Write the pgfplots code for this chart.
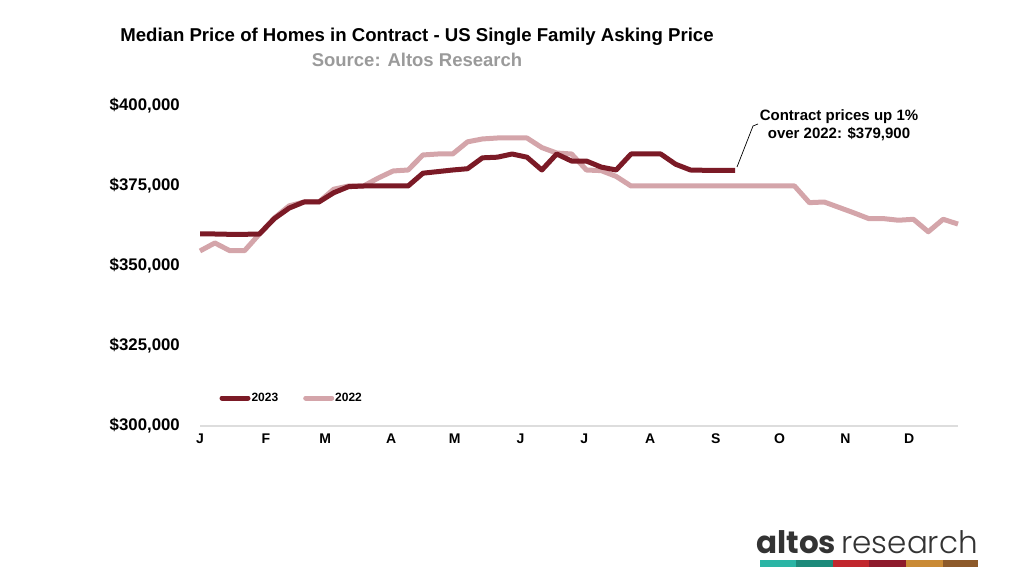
\documentclass[border=0pt]{standalone}
\usepackage{pgfplots}
\pgfplotsset{compat=1.18}
\usepackage{fontspec}
\setmainfont{Liberation Sans}
\IfFontExistsTF{Poppins}{\newfontfamily\logobold{Poppins}[UprightFont=*, BoldFont=* Bold]}{\newfontfamily\logobold{Lato}}
\IfFontExistsTF{Poppins Light}{\newfontfamily\logolight{Poppins Light}}{\newfontfamily\logolight{Poppins}}
\definecolor{c23}{HTML}{7B1A26}
\definecolor{c22}{HTML}{D4A5AA}
\definecolor{srcgray}{HTML}{9A9A9A}
\definecolor{axgray}{HTML}{DDDDDD}
\definecolor{l1}{HTML}{2BB5A5}
\definecolor{l2}{HTML}{1D8A7A}
\definecolor{l3}{HTML}{C1272D}
\definecolor{l4}{HTML}{8E1B2C}
\definecolor{l5}{HTML}{C98A35}
\definecolor{l6}{HTML}{8D5A2A}
\definecolor{logogray}{HTML}{333333}
\begin{document}
\begin{tikzpicture}[x=1pt,y=1pt]
\useasboundingbox (0,0) rectangle (1024,576);
\begin{axis}[
  at={(200pt,150pt)}, anchor=south west,
  scale only axis, width=758pt, height=320pt,
  xmin=0, xmax=51, ymin=300000, ymax=400000,
  clip=false,
  axis x line=bottom, axis y line=left,
  x axis line style={draw=axgray, line width=2pt, -},
  y axis line style={draw=none, -},
  major tick length=0pt,
  scaled y ticks=false,
  xtick={0,4.43,8.43,12.86,17.14,21.57,25.86,30.29,34.71,39,43.43,47.71},
  xticklabels={J,F,M,A,M,J,J,A,S,O,N,D},
  ytick={300000,325000,350000,375000,400000},
  yticklabels={{\$300,000},{\$325,000},{\$350,000},{\$375,000},{\$400,000}},
  /pgf/number format/assume math mode=true,
  ticklabel style={inner sep=0pt, font=\bfseries\fontsize{14}{16}\selectfont},
  xticklabel style={anchor=north, yshift=-8pt},
  yticklabel style={anchor=east, xshift=-20pt, font=\bfseries\fontsize{16.8}{18}\selectfont},
  reverse legend,
  legend columns=-1,
  legend image code/.code={\draw[#1, line cap=round] (0pt,0pt) -- (26pt,0pt);},
  legend style={at={(axis cs:1.3,308750)}, anchor=west, draw=none, fill=none,
    inner sep=0pt, font=\bfseries\fontsize{12}{14}\selectfont,
    nodes={inner sep=1pt},
    /tikz/every even column/.append style={column sep=24pt}},
]
\addplot[c22, line width=5pt, line join=round] coordinates {
(0,354700) (1,357200) (2,354800) (3,354800) (4,360000) (5,365000) (6,368800)
(7,370000) (8,370000) (9,374000) (10,375000) (11,375000) (12,377500) (13,379700)
(14,380000) (15,384700) (16,385000) (17,385000) (18,388800) (19,389700) (20,390000)
(21,390000) (22,390000) (23,387000) (24,385300) (25,385000) (26,380000) (27,379800)
(28,378000) (29,375000) (30,375000) (31,375000) (32,375000) (33,375000) (34,375000)
(35,375000) (36,375000) (37,375000) (38,375000) (39,375000) (40,375000) (41,369800)
(42,370000) (43,368300) (44,366600) (45,364800) (46,364800) (47,364300) (48,364600)
(49,360700) (50,364600) (51,363100)
};
\addlegendentry{2022}
\addplot[c23, line width=5pt, line join=round] coordinates {
(0,360000) (1,360000) (2,359900) (3,359900) (4,360000) (5,364800) (6,368100)
(7,370000) (8,370000) (9,372900) (10,374800) (11,375000) (12,375000) (13,375000)
(14,375000) (15,379000) (16,379500) (17,380000) (18,380400) (19,383800) (20,384000)
(21,385000) (22,384000) (23,380000) (24,385000) (25,382800) (26,382800) (27,380900)
(28,380000) (29,385000) (30,385000) (31,385000) (32,381800) (33,380000) (34,379900)
(35,379900) (36,379900)
};
\addlegendentry{2023}
\end{axis}
% annotation leader
\draw[black, line width=0.7pt] (737,409) -- (753,450) -- (758,452);
\node[align=center, font=\bfseries\fontsize{15}{18}\selectfont, anchor=center] at (839,451) {Contract prices up 1\%\\over 2022: \$379,900};
% titles
\node[font=\bfseries\fontsize{18.6}{21}\selectfont, anchor=center] at (417,539) {Median Price of Homes in Contract - US Single Family Asking Price};
\node[font=\bfseries\fontsize{18.5}{21}\selectfont, text=srcgray, anchor=center] at (417,516) {Source: Altos Research};
% logo
\node[anchor=base east, inner sep=0pt, text=logogray, font=\fontsize{31}{34}\selectfont] at (978,23) {{\logobold\bfseries altos}\,{\logolight research}};
\fill[l1] (760,9) rectangle (796,16);
\fill[l2] (796,9) rectangle (833,16);
\fill[l3] (833,9) rectangle (869,16);
\fill[l4] (869,9) rectangle (906,16);
\fill[l5] (906,9) rectangle (943,16);
\fill[l6] (943,9) rectangle (978,16);
\end{tikzpicture}
\end{document}
